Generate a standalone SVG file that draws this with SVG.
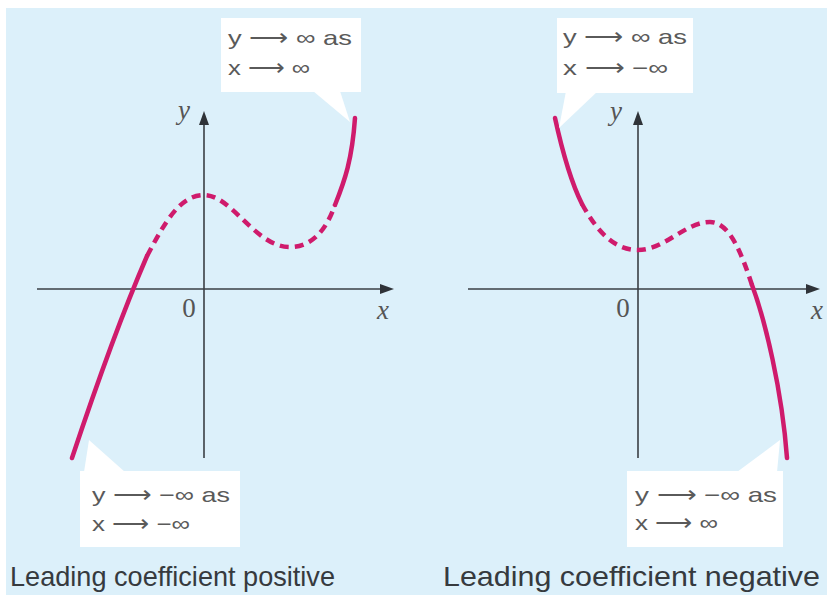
<svg xmlns="http://www.w3.org/2000/svg" width="827" height="595" viewBox="0 0 827 595">
<style>
.axis{stroke:#3a3f44;stroke-width:1.6;fill:none}
.head{fill:#2f3338}
.curve{stroke:#cf1b6c;stroke-width:4.5;fill:none;stroke-linecap:round}
.dash{stroke-dasharray:9 6;stroke-linecap:butt}
.box{fill:#ffffff}
.note{font-family:"Liberation Sans",Arial,sans-serif;font-size:21px;fill:#5a5a5a}
.lbl{font-family:"Liberation Serif","Times New Roman",serif;font-size:27px;fill:#555}
.it{font-style:italic}
.cap{font-family:"Liberation Sans",Arial,sans-serif;font-size:28px;fill:#363a3e}
</style>
<rect x="6" y="8" width="821" height="587" fill="#dcf0fa"/>

<g id="left-axes">
  <line class="axis" x1="37" y1="289" x2="383" y2="289"/>
  <polygon class="head" points="394,289 380,284 380,294"/>
  <line class="axis" x1="204" y1="458" x2="204" y2="122"/>
  <polygon class="head" points="204,111 199,125 209,125"/>
  <text class="lbl it" x="184" y="119" text-anchor="middle" font-size="24">y</text>
  <text class="lbl" x="189" y="317" text-anchor="middle">0</text>
  <text class="lbl it" x="383" y="319" text-anchor="middle">x</text>
</g>

<g id="left-curve">
  <path class="curve" d="M72,458 C88,410 115,330 147,256"/>
  <path class="curve dash" d="M147,256 C165,222 180,195 204,195 C232,195 255,247 290,247 C315,247 328,225 335,205"/>
  <path class="curve" d="M335,205 C345,180 352,160 355,118"/>
</g>

<g id="left-top-callout">
  <polygon class="box" points="313,91 340,91 350,122"/>
  <rect class="box" x="221" y="18" width="140" height="74"/>
  <text class="note" x="228" y="45" textLength="124" lengthAdjust="spacingAndGlyphs">y ⟶ ∞ as</text>
  <text class="note" x="228" y="75" textLength="82" lengthAdjust="spacingAndGlyphs">x ⟶ ∞</text>
</g>

<g id="left-bottom-callout">
  <polygon class="box" points="84,472 125,472 89,440"/>
  <rect class="box" x="80" y="471" width="160" height="76"/>
  <text class="note" x="92" y="502" textLength="138" lengthAdjust="spacingAndGlyphs">y ⟶ −∞ as</text>
  <text class="note" x="92" y="531" textLength="98" lengthAdjust="spacingAndGlyphs">x ⟶ −∞</text>
</g>

<g id="right-axes">
  <line class="axis" x1="468" y1="289" x2="809" y2="289"/>
  <polygon class="head" points="820,289 806,284 806,294"/>
  <line class="axis" x1="638" y1="458" x2="638" y2="122"/>
  <polygon class="head" points="638,111 633,125 643,125"/>
  <text class="lbl it" x="616" y="120" text-anchor="middle" font-size="24">y</text>
  <text class="lbl" x="623" y="317" text-anchor="middle">0</text>
  <text class="lbl it" x="817" y="319" text-anchor="middle">x</text>
</g>

<g id="right-curve">
  <path class="curve" d="M555,118 C562,150 570,180 582,204"/>
  <path class="curve dash" d="M582,204 C598,233 615,250 638,250 C665,250 685,222 710,222 C730,222 742,255 752,285"/>
  <path class="curve" d="M752,285 C765,320 782,390 787,458"/>
</g>

<g id="right-top-callout">
  <polygon class="box" points="566,91 598,91 559,128"/>
  <rect class="box" x="557" y="18" width="136" height="75"/>
  <text class="note" x="563" y="44" textLength="124" lengthAdjust="spacingAndGlyphs">y ⟶ ∞ as</text>
  <text class="note" x="563" y="75" textLength="105" lengthAdjust="spacingAndGlyphs">x ⟶ −∞</text>
</g>

<g id="right-bottom-callout">
  <polygon class="box" points="737,472 777,472 780,440"/>
  <rect class="box" x="627" y="471" width="156" height="76"/>
  <text class="note" x="635" y="502" textLength="142" lengthAdjust="spacingAndGlyphs">y ⟶ −∞ as</text>
  <text class="note" x="635" y="530" textLength="83" lengthAdjust="spacingAndGlyphs">x ⟶ ∞</text>
</g>

<g id="captions">
  <text class="cap" x="10" y="586" textLength="325" lengthAdjust="spacingAndGlyphs">Leading coefficient positive</text>
  <text class="cap" x="443" y="586" textLength="377" lengthAdjust="spacingAndGlyphs">Leading coefficient negative</text>
</g>
</svg>
